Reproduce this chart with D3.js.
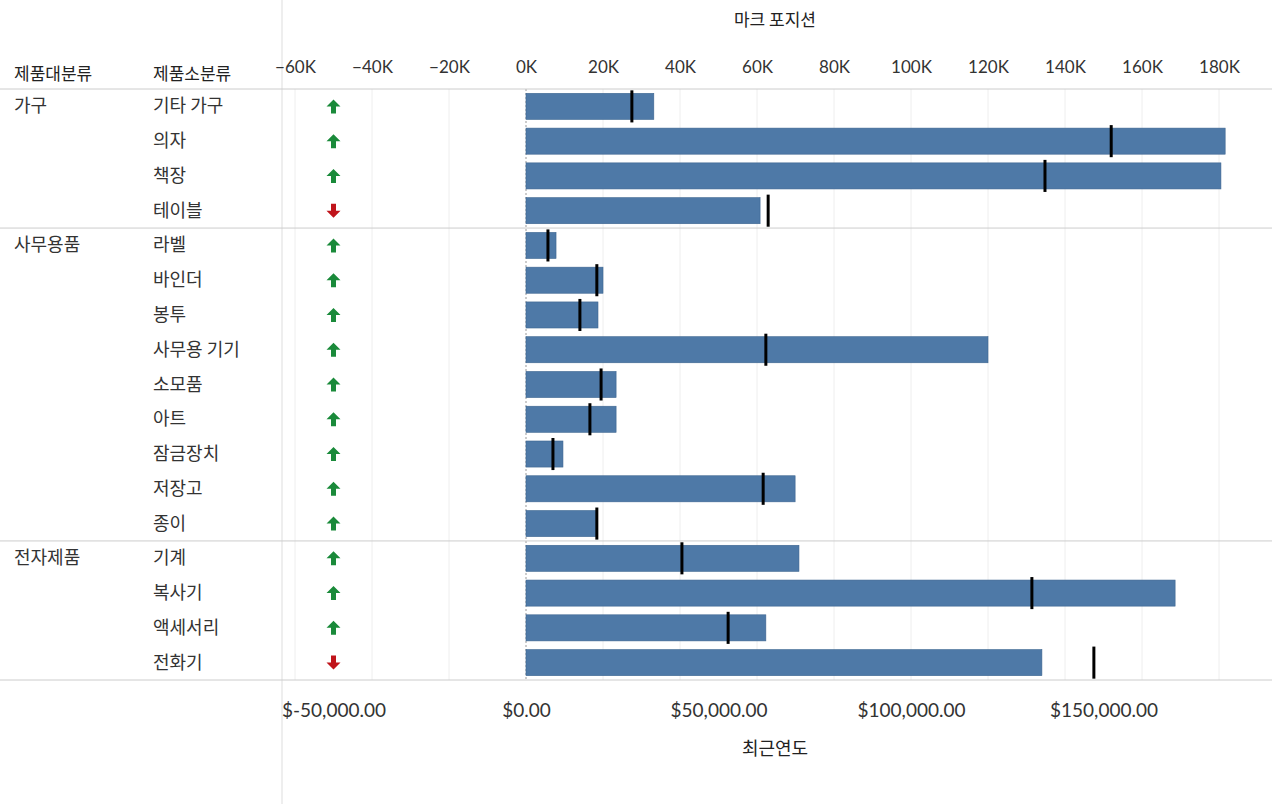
<!DOCTYPE html>
<html><head><meta charset="utf-8">
<script src="https://cdn.jsdelivr.net/npm/d3@7"></script>
<style>body{margin:0;background:#fff;font-family:"Noto Sans CJK KR","Noto Sans",sans-serif;}</style>
</head><body><svg id="c" width="1280" height="804"></svg>
<script>
const groups = ["가구","가구","가구","가구","사무용품","사무용품","사무용품","사무용품","사무용품","사무용품","사무용품","사무용품","사무용품","전자제품","전자제품","전자제품","전자제품"];
const subcats = ["기타 가구","의자","책장","테이블","라벨","바인더","봉투","사무용 기기","소모품","아트","잠금장치","저장고","종이","기계","복사기","액세서리","전화기"];
const recent = [33200,181600,180500,60800,7800,20000,18700,120000,23400,23400,9600,69900,18400,70900,168600,62300,134000];
const previous = [27500,152000,134800,62900,5700,18400,14000,62300,19500,16600,7000,61600,18400,40500,131400,52500,147500];
const topTicks = [-60000,-40000,-20000,0,20000,40000,60000,80000,100000,120000,140000,160000,180000];
const bottomTicks = [-50000,0,50000,100000,150000];
const arrowPos = -50000;

const svg = d3.select("#c");
const x = d3.scaleLinear().domain([0,180000]).range([526,1219]);
const y = d3.scaleBand().domain(subcats).range([89,680]).paddingInner(0.25).paddingOuter(0.125);
const txt = "#333";

// gridlines
svg.append("g").selectAll("line").data(topTicks.filter(d=>d!==0)).join("line")
  .attr("x1",d=>x(d)).attr("x2",d=>x(d)).attr("y1",89).attr("y2",680).attr("stroke","#eee");
svg.append("line").attr("x1",x(0)).attr("x2",x(0)).attr("y1",89).attr("y2",680)
  .attr("stroke","#999").attr("stroke-dasharray","2,2");

// structural lines
svg.append("line").attr("x1",282).attr("x2",282).attr("y1",0).attr("y2",804).attr("stroke","#ddd");
[89,680].forEach(v=>svg.append("line").attr("x1",0).attr("x2",1272).attr("y1",v).attr("y2",v).attr("stroke","#ccc"));
const step = y.step();
[4,13].forEach(i=>{const v=y(subcats[i])-step*0.125;
  svg.append("line").attr("x1",0).attr("x2",1272).attr("y1",v).attr("y2",v).attr("stroke","#ccc");});

// top axis
const ta = svg.append("g").attr("transform","translate(0,62)")
  .call(d3.axisTop(x).tickValues(topTicks).tickSize(0).tickFormat(d=>d3.format("d")(d/1000)+"K"));
ta.select(".domain").remove();
ta.selectAll("text").attr("font-size",17).attr("fill",txt).attr("font-family","Lato,'Noto Sans',sans-serif").attr("dy","0.8em");
svg.append("text").attr("x",x(60000)+18).attr("y",26).attr("text-anchor","middle").attr("font-size",17).attr("fill","#222").text("마크 포지션");

// bottom axis
const ba = svg.append("g").attr("transform","translate(0,700)")
  .call(d3.axisBottom(x).tickValues(bottomTicks).tickSize(0).tickFormat(d=>(d<0?"$-":"$")+d3.format(",.2f")(Math.abs(d))));
ba.select(".domain").remove();
ba.selectAll("text").attr("font-size",19).attr("fill",txt).attr("font-family","Lato,'Noto Sans',sans-serif");
svg.append("text").attr("x",x(60000)+18).attr("y",755).attr("text-anchor","middle").attr("font-size",18).attr("fill","#222").text("최근연도");

// headers
svg.append("text").attr("x",14).attr("y",80).attr("font-size",17).attr("fill","#222").text("제품대분류");
svg.append("text").attr("x",153).attr("y",80).attr("font-size",17).attr("fill","#222").text("제품소분류");

// row labels
const rows = svg.append("g");
subcats.forEach((s,i)=>{
  const cy = y(s)+y.bandwidth()/2;
  if(i===0||groups[i]!==groups[i-1])
    rows.append("text").attr("x",14).attr("y",cy+6).attr("font-size",18).attr("fill",txt).text(groups[i]);
  rows.append("text").attr("x",153).attr("y",cy+6).attr("font-size",18).attr("fill",txt).text(s);
});

// bars
svg.append("g").selectAll("rect").data(subcats).join("rect")
  .attr("x",x(0)).attr("y",d=>y(d)).attr("height",y.bandwidth())
  .attr("width",(d,i)=>x(recent[i])-x(0)).attr("fill","#4e79a7").attr("stroke","#3d6590").attr("stroke-width",0.6);
// reference markers
svg.append("g").selectAll("line").data(subcats).join("line")
  .attr("x1",(d,i)=>x(previous[i])).attr("x2",(d,i)=>x(previous[i]))
  .attr("y1",d=>y(d)-3).attr("y2",d=>y(d)+y.bandwidth()+3).attr("stroke","#000").attr("stroke-width",3);

// arrows
const ax = x(arrowPos);
svg.append("g").selectAll("path").data(subcats).join("path")
  .attr("transform",(d,i)=>{const cy=y(d)+y.bandwidth()/2; return `translate(${ax},${cy})`+(recent[i]>=previous[i]?"":" rotate(180)");})
  .attr("d","M0,-7 L7,0 L2.5,0 L2.5,7 L-2.5,7 L-2.5,0 L-7,0 Z")
  .attr("fill",(d,i)=>recent[i]>=previous[i]?"#1a8a3a":"#c0141b");
</script></body></html>
